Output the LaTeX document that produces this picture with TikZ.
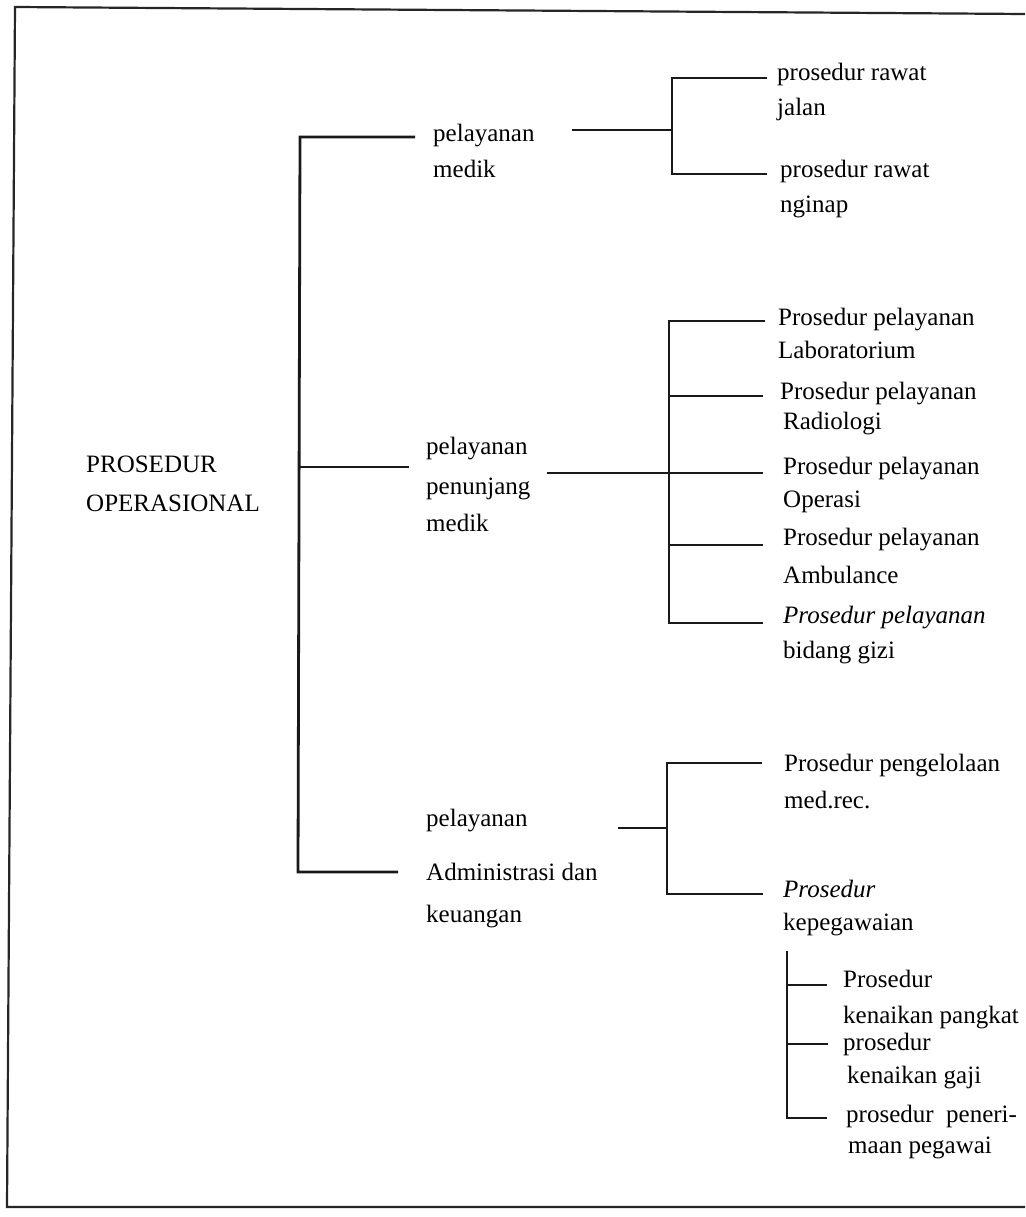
\documentclass[tikz,border=0pt]{standalone}
\usepackage{fontspec}
\setmainfont{Liberation Serif}
% multi-line label whose reference point is the first line's baseline
\newcommand{\mlines}[1]{\begin{tabular}[t]{@{}l@{}}#1\end{tabular}}
\begin{document}
\begin{tikzpicture}[x=1pt,y=-1pt,
  frame/.style={line width=2.2pt, draw=black!85},
  conn/.style={line width=2.8pt, draw=black!90, line join=miter},
  lab/.style={anchor=base west, inner sep=0pt, text=black,
              font=\fontsize{25}{30}\selectfont}]
\useasboundingbox (0,0) rectangle (1025,1217);

% page frame (open on the right)
\draw[frame] (1025,14) -- (15,7) -- (7,1207) -- (1025,1207);

% root
\node[lab] (root) at (86,472) {\mlines{PROSEDUR\\[9.5pt]OPERASIONAL}};

% first level
\node[lab] (m1) at (433,142) {\mlines{pelayanan\\[6pt]medik}};
\node[lab] (m2) at (426,454) {\mlines{pelayanan\\[10pt]penunjang\\[7.5pt]medik}};
\node[lab] (m3) at (426,826) {\mlines{pelayanan\\[24.5pt]Administrasi dan\\[12pt]keuangan}};

\coordinate (t-top) at (300,137);
\coordinate (t-mid) at (299,467);
\coordinate (t-bot) at (298,872);
\coordinate (b1) at (415,137);
\coordinate (b2) at (409,467);
\coordinate (b3) at (398,872);
\draw[conn] (b1) -- (t-top) -- (t-bot) -- (b3);
\draw[conn] (t-mid) -- (b2);

% pelayanan medik
\node[lab] (r1) at (777,81) {\mlines{prosedur rawat\\[5pt]jalan}};
\node[lab] (r2) at (780,178) {\mlines{prosedur rawat\\[5pt]nginap}};
\coordinate (g1-in) at (572,130);
\coordinate (g1-j) at (672,130);
\coordinate (g1-top) at (672,78);
\coordinate (g1-bot) at (672,174);
\coordinate (g1-a) at (767,78);
\coordinate (g1-b) at (767,174);
\draw[conn] (g1-in) -- (g1-j);
\draw[conn] (g1-a) -- (g1-top) -- (g1-bot) -- (g1-b);

% pelayanan penunjang medik
\node[lab] (p1) at (778,325) {\mlines{Prosedur pelayanan\\[3pt]Laboratorium}};
\node[lab] (p2) at (780,399) {\mlines{Prosedur pelayanan\\[0pt]\hspace{3pt}Radiologi}};
\node[lab] (p3) at (783,474) {\mlines{Prosedur pelayanan\\[3pt]Operasi}};
\node[lab] (p4) at (783,545) {\mlines{Prosedur pelayanan\\[8pt]Ambulance}};
\node[lab] (p5) at (783,623) {\mlines{\textit{Prosedur pelayanan}\\[5pt]bidang gizi}};
\coordinate (g2-in) at (547,473);
\coordinate (g2-top) at (669,321);
\coordinate (g2-y2) at (669,396);
\coordinate (g2-j) at (669,473);
\coordinate (g2-y4) at (669,545);
\coordinate (g2-bot) at (669,623);
\coordinate (g2-a) at (765,321);
\coordinate (g2-b) at (763,396);
\coordinate (g2-c) at (763,473);
\coordinate (g2-d) at (763,545);
\coordinate (g2-e) at (763,623);
\draw[conn] (g2-in) -- (g2-c);
\draw[conn] (g2-a) -- (g2-top) -- (g2-bot) -- (g2-e);
\draw[conn] (g2-y2) -- (g2-b);
\draw[conn] (g2-y4) -- (g2-d);

% pelayanan administrasi dan keuangan
\node[lab] (a1) at (784,771) {\mlines{Prosedur pengelolaan\\[7pt]med.rec.}};
\node[lab] (a2) at (783,897) {\mlines{\textit{Prosedur}\\[3pt]kepegawaian}};
\coordinate (g3-in) at (618,828);
\coordinate (g3-j) at (667,828);
\coordinate (g3-top) at (667,763);
\coordinate (g3-bot) at (667,894);
\coordinate (g3-a) at (762,763);
\coordinate (g3-b) at (763,894);
\draw[conn] (g3-in) -- (g3-j);
\draw[conn] (g3-a) -- (g3-top) -- (g3-bot) -- (g3-b);

% kepegawaian
\node[lab] (k1) at (843,987) {\mlines{Prosedur\\[6pt]kenaikan pangkat}};
\node[lab] (k2) at (843,1050) {\mlines{prosedur\\[3pt]\hspace{4pt}kenaikan gaji}};
\node[lab] (k3) at (846,1122) {\mlines{prosedur\ \ peneri-\\[1pt]\hspace{2pt}maan pegawai}};
\coordinate (g4-top) at (787,951);
\coordinate (g4-y1) at (787,985);
\coordinate (g4-y2) at (787,1044);
\coordinate (g4-bot) at (787,1118);
\coordinate (g4-a) at (827,985);
\coordinate (g4-b) at (828,1044);
\coordinate (g4-c) at (827,1118);
\draw[conn] (g4-top) -- (g4-bot) -- (g4-c);
\draw[conn] (g4-y1) -- (g4-a);
\draw[conn] (g4-y2) -- (g4-b);
\end{tikzpicture}
\end{document}
